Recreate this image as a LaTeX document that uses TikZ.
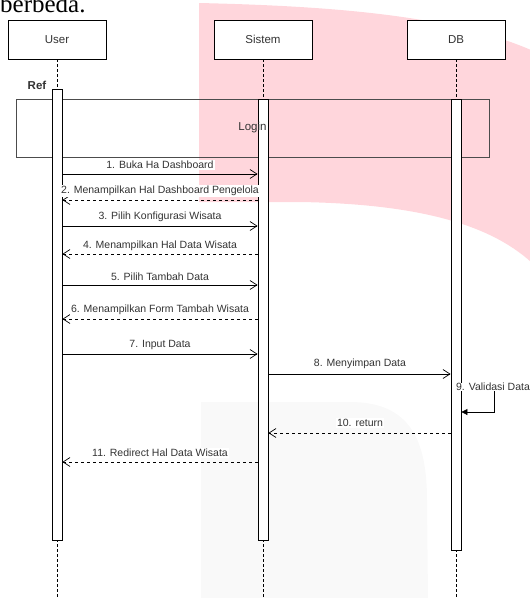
\documentclass[tikz,border=0pt]{standalone}
\usepackage{fontspec}
\setmainfont{Liberation Sans}
\newfontfamily\myserif{Liberation Serif}
\usetikzlibrary{arrows.meta}
\definecolor{wmpink}{RGB}{255,214,220}
\definecolor{wmgray}{RGB}{249,249,249}
\definecolor{txt}{RGB}{51,51,51}
\begin{document}
\begin{tikzpicture}[x=1pt,y=-1pt,
  actor/.style={draw=black, fill=white, line width=0.8pt, minimum width=98pt, minimum height=39pt, inner sep=0pt, text=txt, font=\fontsize{11.5}{13}\selectfont},
  lifeline/.style={draw=black, line width=0.6pt, dash pattern=on 3pt off 2pt},
  actbox/.style={draw=black, fill=white, line width=0.8pt, minimum width=10pt, inner sep=0pt, anchor=north},
  msg/.style={draw=black, line width=0.7pt, -{Straight Barb[length=7pt,width=9pt]}},
  ret/.style={msg, dash pattern=on 3pt off 3pt},
  lbl/.style={fill=white, inner sep=1pt, text=txt, font=\fontsize{10.5}{12}\selectfont},
]
\useasboundingbox (0,0) rectangle (530,598);
\clip (0,0) rectangle (530,598);
% watermark shapes
\fill[wmpink] (199,3) .. controls (330,6) and (450,15) .. (531,50) -- (531,262)
  .. controls (490,225) and (420,204) .. (300,202) -- (199,202) -- cycle;
\fill[wmgray] (201,599) -- (201,402) -- (350,402) .. controls (410,402) and (427,440) .. (427,500) -- (428,599) -- cycle;
% top text
\node[anchor=base west, inner sep=0pt, font=\myserif\fontsize{25}{25}\selectfont] (toptext) at (0,12) {berbeda.};
% actors
\node[actor] (user) at (57,39.5) {User};
\node[actor] (sis) at (263,39.5) {Sistem};
\node[actor] (db) at (456,39.5) {DB};
% lifelines
\coordinate (bottom) at (0,598);
\draw[lifeline] (user.south) -- (user.south |- bottom);
\draw[lifeline] (sis.south) -- (sis.south |- bottom);
\draw[lifeline] (db.south) -- (db.south |- bottom);
% frame
\node[draw=black!70, line width=0.8pt, minimum width=473pt, minimum height=58pt, inner sep=0pt] (frame) at (252.5,128) {};
% activations
\node[actbox, minimum height=451pt] (uact) at (57,89) {};
\node[actbox, minimum height=441pt] (sact) at (263,99) {};
\node[actbox, minimum height=451pt] (dact) at (456,99) {};
% frame texts
\node[text=txt, font=\fontsize{11.5}{13}\selectfont, inner sep=0pt] (logintext) at (frame.center) {Login};
\node[text=txt, font=\bfseries\fontsize{11.5}{13}\selectfont, inner sep=0pt] (reftext) at (37,85) {Ref};
% messages
\draw[msg] (uact.east |- 0,174) -- (sact.west |- 0,174);
\node[lbl] (l1) at (160,165) {1. Buka Ha Dashboard};
\draw[ret] (sact.west |- 0,200) -- (uact.east |- 0,200);
\node[lbl] (l2) at (160,191) {2. Menampilkan Hal Dashboard Pengelola};
\draw[msg] (uact.east |- 0,226) -- (sact.west |- 0,226);
\node[lbl] (l3) at (160,217) {3. Pilih Konfigurasi Wisata};
\draw[ret] (sact.west |- 0,254) -- (uact.east |- 0,254);
\node[lbl] (l4) at (160,246) {4. Menampilkan Hal Data Wisata};
\draw[msg] (uact.east |- 0,285) -- (sact.west |- 0,285);
\node[lbl] (l5) at (160,277) {5. Pilih Tambah Data};
\draw[ret] (sact.west |- 0,319) -- (uact.east |- 0,319);
\node[lbl] (l6) at (160,310) {6. Menampilkan Form Tambah Wisata};
\draw[msg] (uact.east |- 0,354) -- (sact.west |- 0,354);
\node[lbl] (l7) at (160,345) {7. Input Data};
\draw[msg] (sact.east |- 0,374) -- (dact.west |- 0,374);
\node[lbl] (l8) at (360,364) {8. Menyimpan Data};
\draw[line width=0.7pt, -{Triangle[length=6pt,width=6pt]}] (dact.east |- 0,384) -- (494,384) -- (494,412) -- (dact.east |- 0,412);
\node[lbl, inner sep=0.5pt] (l9) at (493,387) {9. Validasi Data};
\draw[ret] (dact.west |- 0,433) -- (sact.east |- 0,433);
\node[lbl] (l10) at (360,423) {10. return};
\draw[ret] (sact.west |- 0,462) -- (uact.east |- 0,462);
\node[lbl] (l11) at (160,453) {11. Redirect Hal Data Wisata};
\end{tikzpicture}
\end{document}
